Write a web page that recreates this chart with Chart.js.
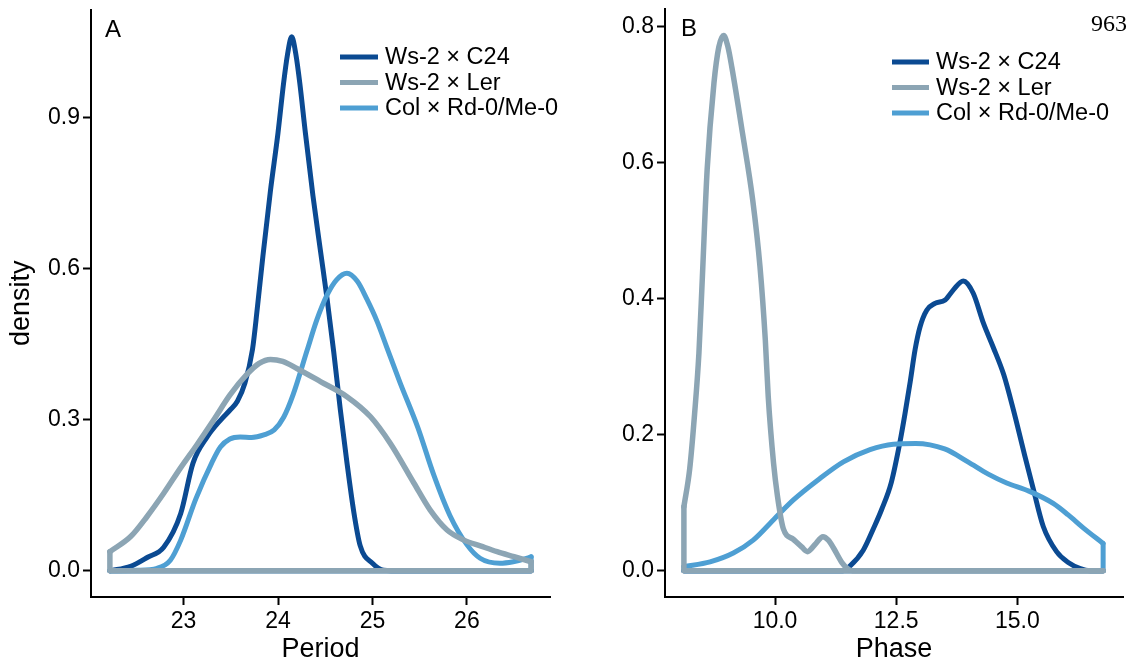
<!DOCTYPE html>
<html><head><meta charset="utf-8">
<script src="https://cdn.jsdelivr.net/npm/chart.js@4.4.1/dist/chart.umd.min.js"></script>
<style>
html,body{margin:0;padding:0;background:#fff;}
#wrap{position:relative;width:1133px;height:665px;overflow:hidden;background:#fff;}
canvas{position:absolute;top:0;}
#ca{left:0;}
#cb{left:590px;}
</style></head><body>
<div id="wrap"><canvas id="ca" width="590" height="665"></canvas><canvas id="cb" width="543" height="665"></canvas></div>
<script>
// ---------- data ----------
const seriesNames = ['Ws-2 × C24', 'Ws-2 × Ler', 'Col × Rd-0/Me-0'];
const seriesColors = ['#0b4a92', '#8ca5b4', '#4e9fd3'];

// Panel A: Period densities
const periodC24X = [22.22, 22.44, 22.62, 22.79, 22.97, 23.1, 23.25, 23.39, 23.49, 23.57, 23.65, 23.73, 23.78, 23.84, 23.92, 24.0, 24.06, 24.1, 24.145, 24.19, 24.23, 24.29, 24.37, 24.45, 24.52, 24.59, 24.66, 24.73, 24.8, 24.87, 25.0, 25.12, 25.3, 26.68];
const periodC24Y = [0, 0.009, 0.027, 0.047, 0.114, 0.214, 0.266, 0.299, 0.319, 0.337, 0.373, 0.44, 0.52, 0.625, 0.755, 0.87, 0.97, 1.025, 1.061, 1.025, 0.97, 0.87, 0.745, 0.635, 0.54, 0.435, 0.32, 0.215, 0.12, 0.05, 0.015, 0.001, 0, 0];
const periodLerX = [22.22, 22.44, 22.61, 22.79, 22.97, 23.14, 23.32, 23.49, 23.67, 23.8, 23.92, 24.05, 24.2, 24.45, 24.73, 24.98, 25.19, 25.44, 25.61, 25.79, 25.97, 26.15, 26.32, 26.5, 26.68];
const periodLerY = [0.038, 0.068, 0.107, 0.154, 0.205, 0.25, 0.3, 0.349, 0.39, 0.412, 0.42, 0.416, 0.402, 0.376, 0.346, 0.306, 0.253, 0.174, 0.121, 0.081, 0.061, 0.049, 0.038, 0.028, 0.018];
const periodColX = [22.22, 22.5, 22.72, 22.86, 22.97, 23.13, 23.3, 23.39, 23.49, 23.6, 23.72, 23.85, 23.96, 24.06, 24.16, 24.31, 24.41, 24.52, 24.62, 24.73, 24.84, 24.94, 25.05, 25.15, 25.29, 25.48, 25.65, 25.82, 26.0, 26.14, 26.35, 26.49, 26.64, 26.68];
const periodColY = [0, 0.001, 0.005, 0.021, 0.061, 0.143, 0.215, 0.246, 0.262, 0.266, 0.265, 0.27, 0.28, 0.305, 0.35, 0.439, 0.498, 0.548, 0.578, 0.591, 0.575, 0.54, 0.495, 0.445, 0.375, 0.285, 0.19, 0.11, 0.052, 0.025, 0.015, 0.018, 0.025, 0.028];

// Panel B: Phase densities
const phaseC24X = [8.12, 11.4, 11.55, 11.82, 12.05, 12.2, 12.4, 12.58, 12.68, 12.79, 12.89, 12.99, 13.13, 13.3, 13.51, 13.68, 13.885, 14.09, 14.3, 14.5, 14.72, 14.92, 15.15, 15.33, 15.535, 15.81, 16.05, 16.3, 16.5, 16.77];
const phaseC24Y = [0, 0, 0.007, 0.03, 0.065, 0.09, 0.13, 0.19, 0.23, 0.278, 0.325, 0.358, 0.383, 0.393, 0.398, 0.413, 0.426, 0.408, 0.364, 0.329, 0.288, 0.236, 0.17, 0.12, 0.065, 0.028, 0.012, 0.003, 0, 0];
const phaseLerX = [8.12, 8.24, 8.34, 8.43, 8.5, 8.6, 8.74, 8.84, 8.94, 9.03, 9.11, 9.33, 9.54, 9.69, 9.8, 9.86, 9.97, 10.05, 10.17, 10.38, 10.55, 10.67, 10.82, 10.99, 11.1, 11.21, 11.38, 11.5, 11.6, 16.77];
const phaseLerY = [0.094, 0.15, 0.23, 0.32, 0.43, 0.59, 0.717, 0.77, 0.787, 0.77, 0.74, 0.643, 0.545, 0.447, 0.339, 0.256, 0.158, 0.11, 0.062, 0.046, 0.035, 0.028, 0.038, 0.05, 0.045, 0.033, 0.012, 0.003, 0, 0];
const phaseColX = [8.12, 8.66, 9.14, 9.55, 9.97, 10.38, 10.88, 11.41, 11.96, 12.44, 12.9, 13.5, 13.98, 14.4, 14.78, 15.24, 15.74, 16.05, 16.36, 16.77];
const phaseColY = [0.006, 0.013, 0.026, 0.045, 0.075, 0.104, 0.133, 0.16, 0.178, 0.186, 0.187, 0.179, 0.16, 0.142, 0.129, 0.117, 0.099, 0.082, 0.063, 0.04];

// tick labels
const periodTicks = [23, 24, 25, 26];
const densityTicksA = [0, 0.3, 0.6, 0.9];
const phaseTicks = [10, 12.5, 15];
const densityTicksB = [0, 0.2, 0.4, 0.6, 0.8];

// ---------- helpers ----------
const FONT = '"Liberation Sans", Arial, sans-serif';
Chart.defaults.font.family = FONT;
Chart.defaults.color = '#000';

const drawOrder = [2, 0, 1]; // C24 bottom, Ler top, Col middle
const lineWidths = [5, 5.5, 5];
function pts(xs, ys) { return xs.map((x, i) => ({x: x, y: ys[i]})); }
function frame(xs, ys) {
  const n = xs.length - 1;
  return [{x: xs[0], y: ys[0]}, {x: xs[0], y: 0}, {x: xs[n], y: 0}, {x: xs[n], y: ys[n]}];
}
function makeDatasets(list) {
  const ds = [];
  list.forEach((s, i) => {
    ds.push({label: seriesNames[i], data: pts(s[0], s[1]), borderColor: seriesColors[i], borderWidth: lineWidths[i],
      pointRadius: 0, cubicInterpolationMode: 'monotone', fill: false, order: drawOrder[i],
      borderJoinStyle: 'round', borderCapStyle: 'round'});
  });
  list.forEach((s, i) => {
    ds.push({label: '_frame', isFrame: true, data: frame(s[0], s[1]), borderColor: seriesColors[i], borderWidth: lineWidths[i],
      pointRadius: 0, tension: 0, fill: false, order: drawOrder[i], borderJoinStyle: 'round', borderCapStyle: 'round'});
  });
  return ds;
}

const decor = {
  id: 'decor',
  afterDraw(chart, args, opts) {
    const ctx = chart.ctx;
    ctx.save();
    ctx.fillStyle = '#000';
    ctx.font = '24px ' + FONT;
    ctx.textAlign = 'left';
    ctx.textBaseline = 'alphabetic';
    ctx.fillText(opts.panel, opts.panelX, opts.panelY);
    const series = chart.data.datasets.filter(d => !d.isFrame);
    series.forEach((d, i) => {
      const y = opts.legY[i];
      ctx.strokeStyle = d.borderColor;
      ctx.lineWidth = 5;
      ctx.lineCap = 'butt';
      ctx.beginPath();
      ctx.moveTo(opts.legX0, y);
      ctx.lineTo(opts.legX1, y);
      ctx.stroke();
      ctx.fillStyle = '#000';
      ctx.font = '23.5px ' + FONT;
      ctx.textBaseline = 'middle';
      ctx.fillText(d.label, opts.legTextX, y + 1);
    });
    if (opts.extra) {
      ctx.font = '24px "Liberation Serif", "Times New Roman", serif';
      ctx.textAlign = 'right';
      ctx.textBaseline = 'alphabetic';
      ctx.fillText(opts.extra, opts.extraX, opts.extraY);
    }
    ctx.restore();
  }
};

function axisCommon(ticksArr, fmt) {
  return {
    type: 'linear',
    afterBuildTicks: s => { s.ticks = ticksArr.map(v => ({value: v})); },
    ticks: {color: '#000', font: {size: 23}, padding: 3, callback: fmt, autoSkip: false, maxRotation: 0},
    grid: {display: true, drawOnChartArea: false, drawTicks: true, tickLength: 8, tickWidth: 2, tickColor: '#000', color: '#000'},
    border: {display: true, color: '#000', width: 2}
  };
}

function makeChart(canvasId, datasets, xr, yr, xTicks, yTicks, xFmt, xTitle, yTitle, yWidth, padRight, padTop, decorOpts) {
  const xs = axisCommon(xTicks, xFmt);
  Object.assign(xs, {min: xr[0], max: xr[1],
    afterFit: s => { s.height = 68; s.paddingLeft = 0; s.paddingRight = 0; },
    title: {display: true, text: xTitle, color: '#000', font: {size: 27}, padding: {top: 0, bottom: -1}}});
  const ys = axisCommon(yTicks, v => Number(v).toFixed(1));
  Object.assign(ys, {min: yr[0], max: yr[1],
    afterFit: s => { s.width = yWidth; s.paddingTop = 0; s.paddingBottom = 0; },
    title: {display: !!yTitle, text: yTitle || '', color: '#000', font: {size: 27}, padding: {top: 5, bottom: 0}}});
  return new Chart(document.getElementById(canvasId), {
    type: 'line',
    data: {datasets: datasets},
    options: {
      responsive: false, animation: false, devicePixelRatio: 1,
      layout: {padding: {left: 0, right: padRight, top: padTop, bottom: 0}},
      plugins: {legend: {display: false}, tooltip: {enabled: false}, decor: decorOpts},
      scales: {x: xs, y: ys}
    },
    plugins: [decor]
  });
}

makeChart('ca',
  makeDatasets([[periodC24X, periodC24Y], [periodLerX, periodLerY], [periodColX, periodColY]]),
  [22.02, 26.88], [-0.052, 1.115], periodTicks, densityTicksA, v => String(v), 'Period', 'density',
  91, 40, 9.5,
  {panel: 'A', panelX: 105, panelY: 37, legX0: 340, legX1: 378, legTextX: 385, legY: [57, 82.5, 108]});

makeChart('cb',
  makeDatasets([[phaseC24X, phaseC24Y], [phaseLerX, phaseLerY], [phaseColX, phaseColY]]),
  [7.73, 17.18], [-0.0387, 0.826], phaseTicks, densityTicksB, v => Number(v).toFixed(1), 'Phase', '',
  75, 10, 9,
  {panel: 'B', panelX: 91, panelY: 36, legX0: 302, legX1: 339, legTextX: 346, legY: [62, 87.5, 113],
   extra: '963', extraX: 537, extraY: 30.5});
</script>
</body></html>
